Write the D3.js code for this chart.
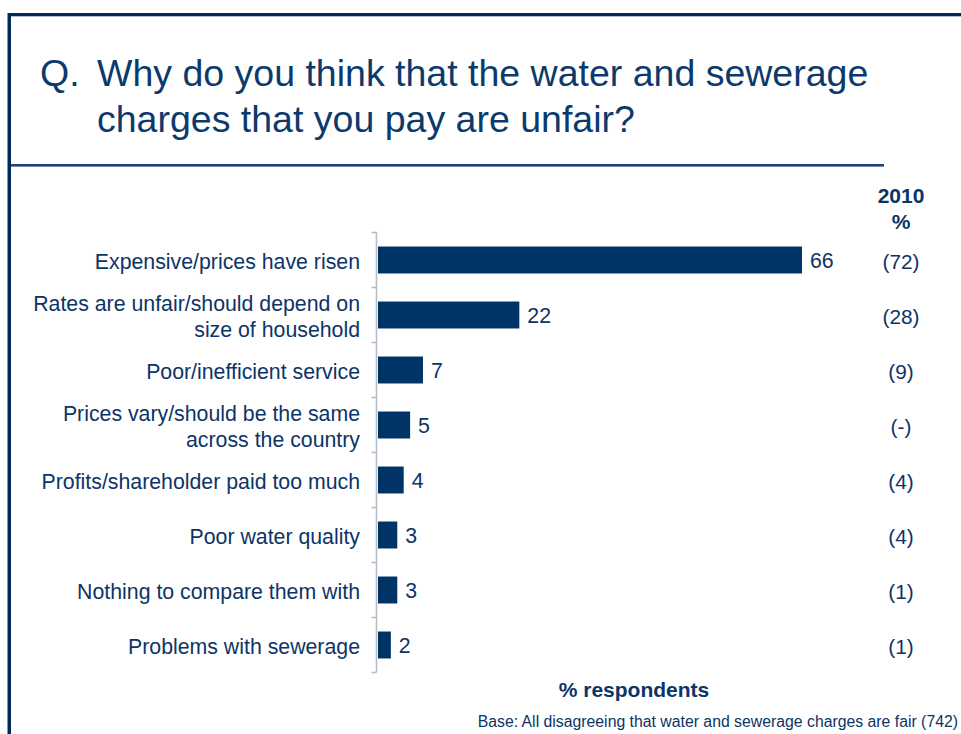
<!DOCTYPE html>
<html>
<head>
<meta charset="utf-8">
<script src="https://cdn.jsdelivr.net/npm/d3@7"></script>
<style>
  html, body { margin: 0; padding: 0; background: #ffffff; }
  svg { display: block; font-family: "Liberation Sans", Arial, sans-serif; }
</style>
</head>
<body>
<svg id="chart" width="961" height="734"></svg>
<script>
// Survey reasons, current year share and previous year (2010) comparison
const categories = [
  ["Expensive/prices have risen"],
  ["Rates are unfair/should depend on", "size of household"],
  ["Poor/inefficient service"],
  ["Prices vary/should be the same", "across the country"],
  ["Profits/shareholder paid too much"],
  ["Poor water quality"],
  ["Nothing to compare them with"],
  ["Problems with sewerage"]
];
const values = [66, 22, 7, 5, 4, 3, 3, 2];
const previous = ["(72)", "(28)", "(9)", "(-)", "(4)", "(4)", "(1)", "(1)"];

const titleLines = ["Why do you think that the water and sewerage", "charges that you pay are unfair?"];
const columnHeader = ["2010", "%"];
const axisTitle = "% respondents";
const baseNote = "Base: All disagreeing that water and sewerage charges are fair (742)";

const navy = "#002a5c";
const barColor = "#003366";
const textColor = "#0d3466";
const axisColor = "#b7bdc9";
const labelSize = "21.3px";

const svg = d3.select("#chart");

// Frame: top rule and left rule
svg.append("rect").attr("x", 8).attr("y", 13).attr("width", 953).attr("height", 3.3).attr("fill", navy);
svg.append("rect").attr("x", 7.5).attr("y", 13).attr("width", 3.5).attr("height", 721).attr("fill", navy);
// Rule under the question
svg.append("rect").attr("x", 11).attr("y", 164).attr("width", 873).attr("height", 2.6).attr("fill", "#1a4577");

// Question
const title = svg.append("g").attr("fill", "#0c3a6c").style("font-size", "37.5px");
title.append("text").attr("x", 40).attr("y", 86).text("Q.");
titleLines.forEach((t, i) => {
  title.append("text").attr("x", 97).attr("y", 86 + i * 46).text(t);
});

// Scales
const idx = values.map((d, i) => i);
const y = d3.scaleBand().domain(idx).range([232.5, 672.5]).paddingInner(0.51).paddingOuter(0.255);
const x = d3.scaleLinear().domain([0, 100]).range([378, 378 + 642.4]);

// Axis line with ticks at category boundaries
const axisX = 376.5;
const axis = svg.append("g").attr("stroke", axisColor).attr("stroke-width", 1.6).attr("fill", "none");
axis.append("line").attr("x1", axisX).attr("x2", axisX).attr("y1", y.range()[0]).attr("y2", y.range()[1]);
d3.range(values.length + 1).forEach(k => {
  const yy = y.range()[0] + k * (y.range()[1] - y.range()[0]) / values.length;
  axis.append("line").attr("x1", axisX - 5).attr("x2", axisX).attr("y1", yy).attr("y2", yy);
});

// Bars
svg.append("g").selectAll("rect").data(values).join("rect")
  .attr("x", x(0))
  .attr("y", (d, i) => y(i))
  .attr("width", d => x(d) - x(0))
  .attr("height", y.bandwidth())
  .attr("fill", barColor);

// Value labels
svg.append("g").selectAll("text").data(values).join("text")
  .attr("x", d => x(d) + 8)
  .attr("y", (d, i) => y(i) + y.bandwidth() / 2 + 1)
  .attr("dy", "0.35em")
  .attr("fill", textColor)
  .style("font-size", labelSize)
  .text(d => d);

// Category labels
const cat = svg.append("g").attr("text-anchor", "end").attr("fill", textColor).style("font-size", labelSize);
categories.forEach((lines, i) => {
  const cy = y(i) + y.bandwidth() / 2 + 1.5;
  const lh = 26;
  lines.forEach((t, j) => {
    cat.append("text")
      .attr("x", 360)
      .attr("y", cy + (j - (lines.length - 1) / 2) * lh)
      .attr("dy", "0.35em")
      .text(t);
  });
});

// Previous-year column
const colX = 901;
const hdr = svg.append("g").attr("text-anchor", "middle").attr("fill", "#0c3466")
  .style("font-size", "21px").style("font-weight", "bold");
columnHeader.forEach((t, i) => hdr.append("text").attr("x", colX).attr("y", 203 + i * 26).text(t));
svg.append("g").selectAll("text").data(previous).join("text")
  .attr("x", colX)
  .attr("y", (d, i) => y(i) + y.bandwidth() / 2 + 1.5)
  .attr("dy", "0.35em")
  .attr("text-anchor", "middle")
  .attr("fill", textColor)
  .style("font-size", "20.8px")
  .text(d => d);

// Axis title
svg.append("text").attr("x", 634).attr("y", 697).attr("text-anchor", "middle")
  .attr("fill", "#0c3466").style("font-size", "21px").style("font-weight", "bold")
  .text(axisTitle);

// Base note
svg.append("text").attr("x", 958).attr("y", 727).attr("text-anchor", "end")
  .attr("fill", textColor).style("font-size", "15.8px")
  .text(baseNote);
</script>
</body>
</html>
